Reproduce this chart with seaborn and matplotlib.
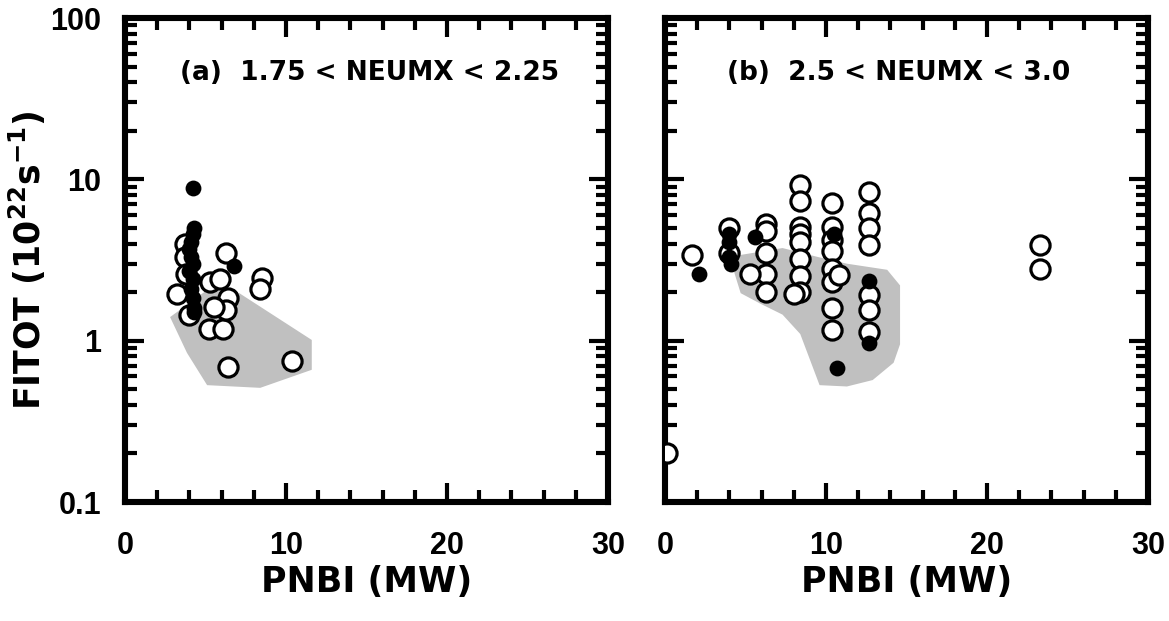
import numpy as np
import pandas as pd
import matplotlib
matplotlib.use("Agg")
import matplotlib.pyplot as plt
from matplotlib.ticker import MultipleLocator, LogLocator, FixedLocator, NullFormatter
import seaborn as sns

# ---------------- data ----------------
# panel (a): 1.75 < NEUMX < 2.25
a_open_x = [3.2, 3.7, 3.7, 3.8, 4.0, 5.2, 6.1, 5.3, 5.9, 6.3, 6.4, 6.3, 5.5, 8.5, 8.4, 6.4, 10.4]
a_open_y = [1.95, 4.0, 3.3, 2.6, 1.45, 1.18, 1.18, 2.3, 2.4, 3.5, 1.85, 1.55, 1.62, 2.45, 2.1, 0.69, 0.75]
a_fill_x = [4.2, 4.3, 4.2, 4.1, 4.0, 4.1, 4.2, 4.0, 4.2, 4.1, 4.2, 4.3, 4.3, 6.8]
a_fill_y = [8.8, 5.0, 4.6, 4.1, 3.7, 3.3, 3.0, 2.7, 2.4, 2.1, 1.85, 1.6, 1.5, 2.9]
a_shade_x = [2.8, 5.1, 7.1, 11.6, 11.6, 8.4, 5.1, 3.85]
a_shade_y = [1.40, 2.06, 1.97, 1.01, 0.66, 0.51, 0.53, 0.84]

# panel (b): 2.5 < NEUMX < 3.0
b_open_x = [0.1, 1.7, 4.0, 4.0,
            6.3, 6.3, 6.3, 6.3, 6.3, 5.3,
            8.4, 8.4, 8.4, 8.4, 8.4, 8.4, 8.4, 8.4, 8.0,
            10.4, 10.4, 10.4, 10.4, 10.4, 10.4, 10.4, 10.4, 10.8,
            12.7, 12.7, 12.7, 12.7, 12.7, 12.7, 12.7,
            23.3, 23.3]
b_open_y = [0.2, 3.4, 5.0, 3.5,
            5.3, 4.8, 3.5, 2.6, 2.0, 2.6,
            9.2, 7.3, 5.1, 4.6, 4.1, 3.2, 2.5, 2.0, 1.95,
            7.1, 5.1, 4.2, 3.6, 2.8, 2.3, 1.6, 1.17, 2.55,
            8.3, 6.2, 5.0, 3.9, 1.92, 1.55, 1.13,
            3.9, 2.8]
b_fill_x = [2.1, 4.0, 4.0, 4.0, 4.1, 5.6, 10.5, 10.7, 12.7, 12.7]
b_fill_y = [2.6, 4.6, 4.1, 3.3, 3.0, 4.4, 4.6, 0.68, 2.35, 0.97]
b_shade_x = [4.3, 4.7, 7.3, 9.5, 11.3, 13.8, 14.6, 14.6, 14.2, 12.9, 11.3, 9.6, 8.4, 7.3, 5.9, 4.7]
b_shade_y = [2.65, 3.4, 3.75, 3.3, 3.0, 2.75, 2.2, 0.95, 0.73, 0.57, 0.52, 0.53, 1.1, 1.45, 1.7, 1.97]

panel_titles = ["(a)  1.75 < NEUMX < 2.25", "(b)  2.5 < NEUMX < 3.0"]
x_ticks = [0, 10, 20, 30]
y_ticks = [0.1, 1, 10, 100]
y_tick_labels = ["0.1", "1", "10", "100"]
x_label = "PNBI (MW)"
y_label = r"FITOT (10$^{22}$s$^{-1}$)"

# ---------------- style ----------------
sns.set_theme(style="white")
plt.rcParams["font.family"] = ["DejaVu Sans"]
plt.rcParams["font.weight"] = "bold"
plt.rcParams["mathtext.fontset"] = "dejavusans"
plt.rcParams["mathtext.default"] = "bf"
plt.rcParams["text.color"] = "black"
plt.rcParams["axes.labelcolor"] = "black"
plt.rcParams["xtick.color"] = "black"
plt.rcParams["ytick.color"] = "black"

fig = plt.figure(figsize=(11.69, 6.21), dpi=100)
W, H = 1169, 621
axA = fig.add_axes([125 / W, 1 - 502 / H, 483 / W, 484 / H])
axB = fig.add_axes([665 / W, 1 - 502 / H, 483 / W, 484 / H])

panels = [
    (axA, a_open_x, a_open_y, a_fill_x, a_fill_y, a_shade_x, a_shade_y),
    (axB, b_open_x, b_open_y, b_fill_x, b_fill_y, b_shade_x, b_shade_y),
]

tick_font = dict(family="Liberation Sans", weight="bold", size=22)

for i, (ax, ox, oy, fx, fy, sx, sy) in enumerate(panels):
    ax.set_yscale("log")
    ax.fill(sx, sy, facecolor="#c0c0c0", edgecolor="none", zorder=1)
    df_o = pd.DataFrame({"x": ox, "y": oy})
    df_f = pd.DataFrame({"x": fx, "y": fy})
    sns.scatterplot(data=df_o, x="x", y="y", ax=ax, marker="o", s=190,
                    facecolor="white", edgecolor="black", linewidth=2.3, zorder=3)
    sns.scatterplot(data=df_f, x="x", y="y", ax=ax, marker="o", s=130,
                    color="black", edgecolor="black", linewidth=0, zorder=4)
    ax.set_xlim(0, 30)
    ax.set_ylim(0.1, 100)
    for sp in ax.spines.values():
        sp.set_linewidth(4.4)
        sp.set_color("black")
        sp.set_visible(True)
    ax.xaxis.set_major_locator(FixedLocator(x_ticks))
    ax.xaxis.set_minor_locator(MultipleLocator(2))
    ax.yaxis.set_major_locator(FixedLocator(y_ticks))
    ax.yaxis.set_minor_locator(LogLocator(base=10, subs=np.arange(2, 10)))
    ax.yaxis.set_minor_formatter(NullFormatter())
    ax.tick_params(which="both", direction="in", top=True, right=True,
                   bottom=True, left=True, color="black")
    ax.tick_params(which="major", length=14, width=3)
    ax.tick_params(which="minor", length=8.5, width=3)
    ax.tick_params(axis="x", which="major", pad=21)
    ax.tick_params(axis="y", which="major", pad=17)
    ax.set_xticklabels([str(t) for t in x_ticks], fontdict=tick_font)
    if i == 0:
        ax.set_yticklabels(y_tick_labels, fontdict=tick_font)
        ax.set_ylabel(y_label, fontsize=25, fontweight="bold")
        ax.yaxis.set_label_coords(-0.16, 0.5)
    else:
        ax.set_yticklabels([])
        ax.set_ylabel("")
    ax.set_xlabel(x_label, fontsize=25, fontweight="bold", labelpad=3)
    tx = 0.114 if i == 0 else 0.128
    ax.text(tx, 0.886, panel_titles[i], transform=ax.transAxes, fontsize=19,
            fontweight="bold", ha="left", va="center", color="black")
    ax.grid(False)

fig.savefig("out.png", dpi=100, facecolor="white")
